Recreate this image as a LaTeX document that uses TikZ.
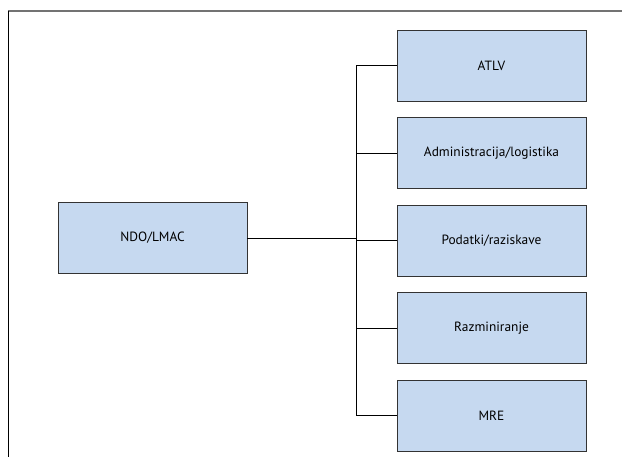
\documentclass[tikz,border=0pt]{standalone}
\usepackage{fontspec}
\setmainfont{PT Sans}
\usetikzlibrary{positioning}
\definecolor{unitblue}{RGB}{198,217,240}

\begin{document}
\begin{tikzpicture}[x=1pt,y=-1pt,
   unit/.style={draw=black!80,fill=unitblue,line width=0.8pt,
      minimum width=189pt,minimum height=71pt,inner sep=0pt,
      font=\fontsize{13.4}{15}\selectfont},
   link/.style={line width=0.8pt},
   node distance=15.7pt]
\useasboundingbox (0,0) rectangle (622,457);
% frame
\draw[black!55,line width=1.3pt] (8,11) -- (622,11);
\draw[line width=1pt] (8,11) -- (8,457);
% centre
\node[unit] (lmac) at (152.5,238) {NDO/LMAC};
% departments
\node[unit] (atlv) at (491.5,65.5) {ATLV};
\node[unit,below=of atlv] (admin) {Administracija/logistika};
\node[unit,below=of admin] (podatki) {Podatki/raziskave};
\node[unit,below=of podatki] (razmin) {Razminiranje};
\node[unit,below=of razmin] (mre) {MRE};
% connectors
\coordinate (bus) at (356,238);
\draw[link] (lmac.east) -- (lmac.east -| bus);
\draw[link] (atlv.west) -| (mre.west -| bus) -- (mre.west);
\foreach \n in {admin,podatki,razmin}
   \draw[link] (\n.west) -- (\n.west -| bus);
\end{tikzpicture}
\end{document}
